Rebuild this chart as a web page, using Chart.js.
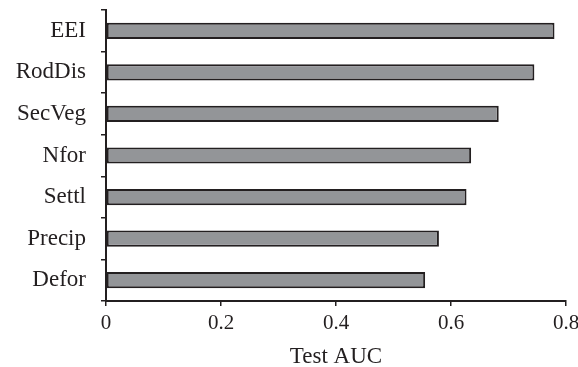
<!DOCTYPE html>
<html>
<head>
<meta charset="utf-8">
<script src="https://cdn.jsdelivr.net/npm/chart.js@4"></script>
<style>
  html, body { margin: 0; padding: 0; background: #fff; }
  #wrap { width: 578px; height: 367px; }
</style>
</head>
<body>
<div id="wrap"><canvas id="chart1" width="578" height="367"></canvas></div>
<script>
const variables = ['EEI', 'RodDis', 'SecVeg', 'Nfor', 'Settl', 'Precip', 'Defor'];
const testAuc = [0.780, 0.745, 0.683, 0.635, 0.627, 0.579, 0.555];
const xTicks = [0, 0.2, 0.4, 0.6, 0.8];

const ink = '#231f20';
const serif = { family: 'Liberation Serif', size: 23 };

const ctx = document.getElementById('chart1').getContext('2d');
new Chart(ctx, {
  type: 'bar',
  data: {
    labels: variables,
    datasets: [{
      label: 'Test AUC',
      data: testAuc,
      backgroundColor: '#939598',
      borderColor: ink,
      borderWidth: 2,
      borderSkipped: false,
      barPercentage: 0.39,
      categoryPercentage: 1
    }]
  },
  options: {
    indexAxis: 'y',
    responsive: false,
    animation: false,
    layout: { padding: { top: 10, right: 12, left: 0, bottom: 0 } },
    plugins: {
      legend: { display: false },
      tooltip: { enabled: false }
    },
    scales: {
      y: {
        // keep the plot box where the reference has it
        afterFit: s => { s.width = 106; s.paddingTop = 0; s.paddingBottom = 0; },
        grid: { drawOnChartArea: false, offset: true, tickLength: 5, color: ink, lineWidth: 1.5 },
        border: { color: ink, width: 2 },
        ticks: { color: ink, font: serif, padding: 15 }
      },
      x: {
        min: 0,
        max: 0.8,
        afterFit: s => { s.height = 66; s.paddingLeft = 0; s.paddingRight = 0; },
        afterBuildTicks: s => { s.ticks = xTicks.map(v => ({ value: v })); },
        grid: { drawOnChartArea: false, tickLength: 5, color: ink, lineWidth: 1.5 },
        border: { color: ink, width: 2 },
        ticks: {
          color: ink, font: { family: 'Liberation Serif', size: 21 }, padding: 5,
          callback: v => v === 0 ? '0' : v.toFixed(1)
        },
        title: { display: true, text: 'Test AUC', color: ink, font: serif, padding: { top: 0, bottom: -4 } }
      }
    }
  }
});
</script>
</body>
</html>
